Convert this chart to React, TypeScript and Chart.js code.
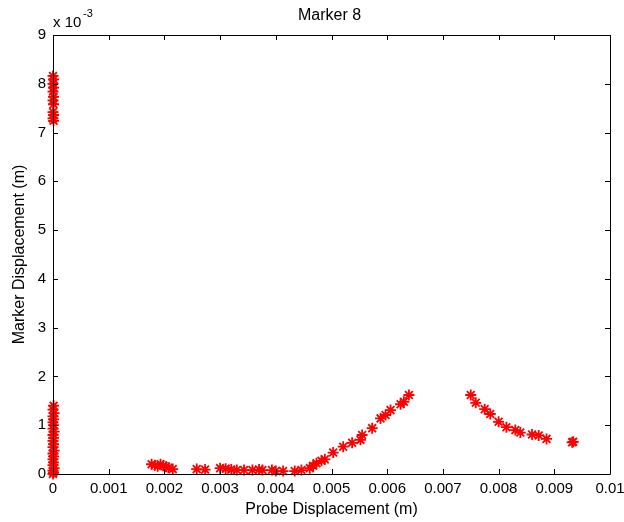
import React, { useEffect, useRef } from "react";
import { Chart, registerables } from "chart.js";

Chart.register(...registerables);

// Probe displacement (m)
const probeX: number[] = [
  // cluster at x = 0 (upper)
  0, 0.00001, 0, 0.00001, 0, 0.00001, 0, 0.00001, 0, 0.00001, 0, 0.00001,
  // cluster at x = 0 (lower)
  0, 0.00001, 0, 0.00002, 0, 0.00001, 0, 0.00001, 0, 0.00002, 0, 0.00001,
  0, 0.00001, 0, 0.00002, 0, 0.00001, 0, 0.00001, 0, 0.00002, 0, 0.00001,
  // near 0.002
  0.00177, 0.00183, 0.00188, 0.00193, 0.00198, 0.00203, 0.00207, 0.00215,
  // flat part
  0.00258, 0.00273, 0.003, 0.0031, 0.0032, 0.0033, 0.00343, 0.00358, 0.0037,
  0.00376, 0.00393, 0.004, 0.00413, 0.00434, 0.00446,
  // rising part
  0.00461, 0.00467, 0.00473, 0.00482, 0.00488, 0.00503, 0.00521, 0.00537,
  0.00552, 0.00555, 0.00573, 0.00588, 0.00597, 0.00606, 0.00624, 0.0063,
  0.00639,
  // falling part
  0.0075, 0.00759, 0.00775, 0.00785, 0.008, 0.00814, 0.0083, 0.00839, 0.0086,
  0.00872, 0.00886, 0.00932, 0.00934,
];

// Marker displacement (x 10^-3 m)
const markerY: number[] = [
  8.16, 8.09, 8.0, 7.92, 7.84, 7.73, 7.66, 7.58, 7.42, 7.36, 7.29, 7.24,
  0.0, 0.03, 0.07, 0.12, 0.18, 0.24, 0.3, 0.36, 0.42, 0.48, 0.55, 0.61,
  0.68, 0.74, 0.8, 0.87, 0.93, 1.0, 1.06, 1.12, 1.18, 1.25, 1.32, 1.4,
  0.2, 0.18, 0.16, 0.2, 0.17, 0.15, 0.13, 0.1,
  0.1, 0.09, 0.12, 0.11, 0.09, 0.08, 0.08, 0.08, 0.09,
  0.08, 0.08, 0.06, 0.06, 0.06, 0.08,
  0.12, 0.17, 0.22, 0.27, 0.3, 0.44, 0.56, 0.64,
  0.7, 0.8, 0.94, 1.14, 1.21, 1.31, 1.43, 1.48,
  1.62,
  1.62, 1.46, 1.33, 1.23, 1.07, 0.96, 0.9, 0.85, 0.81,
  0.79, 0.72, 0.65, 0.66,
];

const titleText = "Marker 8";
const xAxisTitle = "Probe Displacement (m)";
const yAxisTitle = "Marker Displacement (m)";
const xTickValues = [0, 0.001, 0.002, 0.003, 0.004, 0.005, 0.006, 0.007, 0.008, 0.009, 0.01];

const FONT = "'Liberation Sans', Arial, sans-serif";

const matlabBox = {
  id: "matlabBox",
  afterDraw(chart: any) {
    const { ctx, chartArea } = chart;
    const { left, right, top, bottom } = chartArea;
    const xs = chart.scales.x;
    const ys = chart.scales.y;
    ctx.save();
    ctx.strokeStyle = "#000";
    ctx.lineWidth = 1;
    ctx.beginPath();
    ctx.rect(Math.round(left) + 0.5, Math.round(top) + 0.5, Math.round(right - left), Math.round(bottom - top));
    ctx.stroke();
    const tl = 5;
    ctx.beginPath();
    xs.ticks.forEach((t: any) => {
      const px = Math.round(xs.getPixelForValue(t.value)) + 0.5;
      ctx.moveTo(px, bottom);
      ctx.lineTo(px, bottom - tl);
      ctx.moveTo(px, top);
      ctx.lineTo(px, top + tl);
    });
    ys.ticks.forEach((t: any) => {
      const py = Math.round(ys.getPixelForValue(t.value)) + 0.5;
      ctx.moveTo(left, py);
      ctx.lineTo(left + tl, py);
      ctx.moveTo(right, py);
      ctx.lineTo(right - tl, py);
    });
    ctx.stroke();
    // title
    ctx.fillStyle = "#000";
    ctx.textAlign = "center";
    ctx.textBaseline = "middle";
    ctx.font = `16px ${FONT}`;
    ctx.fillText(titleText, (left + right) / 2 - 2, 16);
    // exponent label
    ctx.textAlign = "left";
    ctx.font = `15px ${FONT}`;
    ctx.fillText("x 10", left, 23);
    ctx.font = `11px ${FONT}`;
    ctx.fillText("-3", left + 30, 14);
    ctx.restore();
  },
};

export default function App() {
  const ref = useRef<HTMLCanvasElement | null>(null);
  useEffect(() => {
    document.body.style.margin = "0";
    if (!ref.current) return;
    const points = probeX.map((x, i) => ({ x, y: markerY[i] }));
    const chart = new Chart(ref.current, {
      type: "scatter",
      data: {
        datasets: [
          {
            data: points,
            pointStyle: "star",
            pointRadius: 5.5,
            pointBorderWidth: 1.8,
            borderColor: "#ff0000",
            backgroundColor: "#ff0000",
            clip: false,
          } as any,
        ],
      },
      options: {
        animation: false,
        responsive: false,
        maintainAspectRatio: false,
        layout: { padding: { left: 0, right: 0, top: 35, bottom: 0 } },
        plugins: {
          legend: { display: false },
          tooltip: { enabled: false },
          title: { display: false },
        },
        scales: {
          x: {
            type: "linear",
            min: 0,
            max: 0.01,
            afterFit: (s: any) => {
              s.height = 48;
              s.paddingRight = 14;
            },
            afterBuildTicks: (s: any) => {
              s.ticks = xTickValues.map((v) => ({ value: v }));
            },
            grid: { display: false, drawTicks: false },
            border: { display: false },
            ticks: {
              color: "#000",
              padding: 6,
              maxRotation: 0,
              autoSkip: false,
              font: { family: FONT, size: 15 },
              callback: (v: any) => String(Number(Number(v).toFixed(4))),
            },
            title: {
              display: true,
              text: xAxisTitle,
              color: "#000",
              font: { family: FONT, size: 16 },
              padding: { top: 0, bottom: 3 },
            },
          },
          y: {
            type: "linear",
            min: 0,
            max: 9,
            afterFit: (s: any) => {
              s.width = 53;
            },
            grid: { display: false, drawTicks: false },
            border: { display: false },
            ticks: {
              color: "#000",
              padding: 7,
              stepSize: 1,
              autoSkip: false,
              font: { family: FONT, size: 15 },
              callback: (v: any) => String(v),
            },
            title: {
              display: true,
              text: yAxisTitle,
              color: "#000",
              font: { family: FONT, size: 16 },
              padding: { top: 10, bottom: 0 },
            },
          },
        },
      },
      plugins: [matlabBox],
    });
    return () => chart.destroy();
  }, []);
  return (
    <div style={{ width: 624, height: 522, background: "#fff" }}>
      <canvas ref={ref} width={624} height={522} style={{ display: "block" }} />
    </div>
  );
}
